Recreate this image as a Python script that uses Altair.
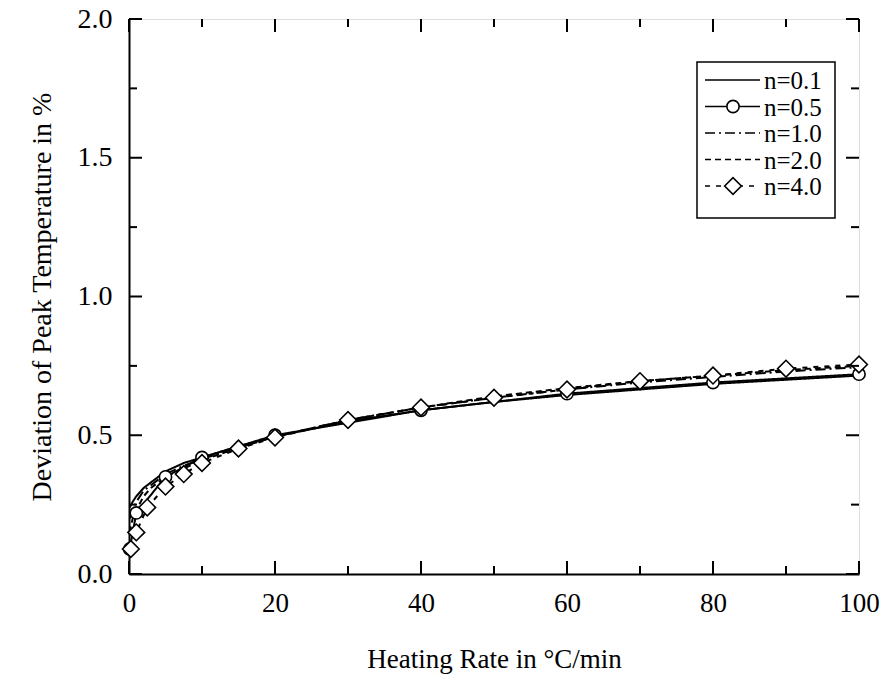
import altair as alt
import pandas as pd

# ---- data ----
x_line = [0.1, 0.5, 1, 2, 3, 5, 7.5, 10, 15, 20, 30, 40, 50, 60, 70, 80, 90, 100]
y_n01 = [0.24, 0.26, 0.28, 0.31, 0.33, 0.37, 0.40, 0.42, 0.46, 0.495, 0.55, 0.59, 0.62, 0.645, 0.665, 0.685, 0.70, 0.715]
y_n10 = [0.20, 0.23, 0.26, 0.30, 0.32, 0.36, 0.39, 0.415, 0.455, 0.495, 0.555, 0.60, 0.635, 0.665, 0.69, 0.71, 0.73, 0.745]
y_n20 = [0.15, 0.20, 0.23, 0.28, 0.31, 0.35, 0.38, 0.41, 0.455, 0.495, 0.555, 0.60, 0.64, 0.67, 0.695, 0.715, 0.735, 0.75]

x_n05 = [0.1, 1, 5, 10, 20, 40, 60, 80, 100]
y_n05 = [0.09, 0.22, 0.35, 0.42, 0.50, 0.59, 0.65, 0.69, 0.72]

x_n40 = [0.25, 1, 2.5, 5, 7.5, 10, 15, 20, 30, 40, 50, 60, 70, 80, 90, 100]
y_n40 = [0.09, 0.15, 0.24, 0.315, 0.36, 0.40, 0.452, 0.492, 0.555, 0.60, 0.635, 0.665, 0.695, 0.715, 0.74, 0.755]

series = ["n=0.1", "n=0.5", "n=1.0", "n=2.0", "n=4.0"]

x_major = [0, 20, 40, 60, 80, 100]
x_minor = [10, 30, 50, 70, 90]
y_major = [0.0, 0.5, 1.0, 1.5, 2.0]
y_minor = [0.25, 0.75, 1.25, 1.75]

# ---- layout / style ----
W, H = 730, 555
FONT = "Liberation Serif"
dashes = {"n=0.1": [1, 0], "n=0.5": [1, 0], "n=1.0": [10, 4, 2, 4], "n=2.0": [6, 4], "n=4.0": [5, 6]}

rows = []
for s, xs, ys in [("n=0.1", x_line, y_n01), ("n=0.5", x_n05, y_n05), ("n=1.0", x_line, y_n10),
                  ("n=2.0", x_line, y_n20), ("n=4.0", x_n40, y_n40)]:
    for xv, yv in zip(xs, ys):
        rows.append({"series": s, "x": xv, "y": yv})
df = pd.DataFrame(rows)

xscale = alt.Scale(domain=[0, 100], nice=False, zero=False)
yscale = alt.Scale(domain=[0, 2], nice=False, zero=False)

xaxis = alt.Axis(values=x_major, tickSize=0, labelFont=FONT, labelFontSize=27, labelColor="black",
                 labelPadding=16, title="Heating Rate in \u00b0C/min", titleFont=FONT, titleFontSize=27,
                 titleFontWeight="normal", titleColor="black", titlePadding=30, grid=False,
                 domainColor="black", domainWidth=2, labelFlush=False)
yaxis = alt.Axis(values=y_major, format=".1f", tickSize=0, labelFont=FONT, labelFontSize=28,
                 labelColor="black", labelPadding=17, title="Deviation of Peak Temperature in %",
                 titleFont=FONT, titleFontSize=28, titleFontWeight="normal", titleColor="black",
                 titlePadding=21, grid=False, domainColor="black", domainWidth=2, labelFlush=False)


def X(field):
    return alt.X(field, scale=xscale, axis=xaxis)


def Y(field):
    return alt.Y(field, scale=yscale, axis=yaxis)


layers = []
for s in series:
    sub = df[df.series == s]
    layers.append(alt.Chart(sub).mark_line(color="black", strokeWidth=2, strokeDash=dashes[s]).encode(
        x=X("x:Q"), y=Y("y:Q"), order="x:Q"))

CIRC, DIAM = 150, 280
pts05 = alt.Chart(df[df.series == "n=0.5"]).mark_point(shape="circle", size=CIRC, filled=True,
        fill="white", stroke="black", strokeWidth=1.6, opacity=1).encode(x=X("x:Q"), y=Y("y:Q"))
pts40 = alt.Chart(df[df.series == "n=4.0"]).mark_point(shape="diamond", size=DIAM, filled=True,
        fill="white", stroke="black", strokeWidth=1.6, opacity=1).encode(x=X("x:Q"), y=Y("y:Q"))
layers += [pts05, pts40]


# inward ticks on all four sides
def xticks(vals, length):
    d = pd.DataFrame({"x": vals})
    b = alt.Chart(d).mark_rule(color="black", strokeWidth=2).encode(
        x=X("x:Q"), y=alt.value(H), y2=alt.value(H - length))
    t = alt.Chart(d).mark_rule(color="black", strokeWidth=2).encode(
        x=X("x:Q"), y=alt.value(0), y2=alt.value(length))
    return [b, t]


def yticks(vals, length):
    d = pd.DataFrame({"y": vals})
    l = alt.Chart(d).mark_rule(color="black", strokeWidth=2).encode(
        y=Y("y:Q"), x=alt.value(0), x2=alt.value(length))
    r = alt.Chart(d).mark_rule(color="black", strokeWidth=2).encode(
        y=Y("y:Q"), x=alt.value(W), x2=alt.value(W - length))
    return [l, r]


layers += xticks(x_major, 13) + xticks(x_minor, 8) + yticks(y_major, 13) + yticks(y_minor, 8)

# legend box
LX0, LY0, LX1, LY1 = 568, 43, 706, 199
one = pd.DataFrame({"a": [0]})
layers.append(alt.Chart(one).mark_rect(fill="white", stroke="black", strokeWidth=1.5).encode(
    x=alt.value(LX0), x2=alt.value(LX1), y=alt.value(LY0), y2=alt.value(LY1)))
for i, s in enumerate(series):
    yy = LY0 + 18 + i * 26.5
    layers.append(alt.Chart(one).mark_rule(color="black", strokeWidth=1.6, strokeDash=dashes[s]).encode(
        x=alt.value(LX0 + 8), x2=alt.value(LX0 + 63), y=alt.value(yy)))
    if s == "n=0.5":
        layers.append(alt.Chart(one).mark_point(shape="circle", size=CIRC, filled=True, fill="white",
                      stroke="black", strokeWidth=1.6, opacity=1).encode(x=alt.value(LX0 + 36), y=alt.value(yy)))
    if s == "n=4.0":
        layers.append(alt.Chart(one).mark_point(shape="diamond", size=DIAM, filled=True, fill="white",
                      stroke="black", strokeWidth=1.6, opacity=1).encode(x=alt.value(LX0 + 36), y=alt.value(yy)))
    layers.append(alt.Chart(one).mark_text(text=s, font=FONT, fontSize=25, align="left", baseline="middle",
                  color="black").encode(x=alt.value(LX0 + 67), y=alt.value(yy + 1)))

chart = alt.layer(*layers).properties(
    width=W, height=H,
    padding={"left": 121, "top": 11, "right": 21, "bottom": 105},
    autosize=alt.AutoSizeParams(type="none"),
).configure_view(stroke="black", strokeWidth=2).configure(background="white")

chart.save("out.html", embed_options={"renderer": "svg", "actions": False})
